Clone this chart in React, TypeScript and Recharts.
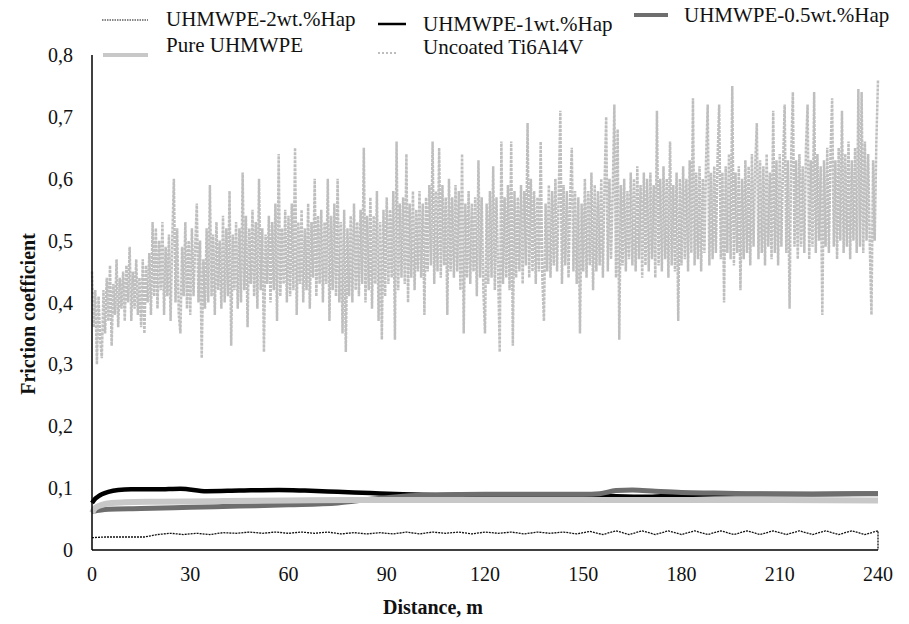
import { LineChart, Line, XAxis, YAxis } from "recharts";

// distances (m) for the smooth series
const DIST_1WT = [0, 1, 2, 3, 5, 8, 12, 20, 27, 35, 45, 57, 65, 75, 85, 95, 105, 120, 150, 160, 170, 180, 200, 220, 240];
const VAL_1WT = [0.076, 0.083, 0.087, 0.09, 0.094, 0.097, 0.098, 0.098, 0.099, 0.095, 0.096, 0.097, 0.096, 0.094, 0.092, 0.09, 0.089, 0.0895, 0.0895, 0.087, 0.086, 0.089, 0.0905, 0.0905, 0.091];

const DIST_05WT = [0, 2, 5, 15, 30, 45, 60, 75, 85, 95, 105, 120, 150, 155, 160, 165, 172, 180, 190, 200, 220, 240];
const VAL_05WT = [0.062, 0.064, 0.066, 0.067, 0.069, 0.071, 0.073, 0.076, 0.082, 0.087, 0.089, 0.09, 0.09, 0.091, 0.096, 0.097, 0.095, 0.093, 0.092, 0.091, 0.09, 0.091];

const DIST_PURE = [0, 1, 3, 6, 10, 20, 40, 60, 80, 100, 120, 150, 180, 210, 240];
const VAL_PURE = [0.06, 0.068, 0.073, 0.076, 0.077, 0.078, 0.079, 0.08, 0.081, 0.081, 0.081, 0.081, 0.081, 0.081, 0.08];

// UHMWPE-2wt.%Hap sampled every 4 m, then the drop at the end
const VAL_2WT = [
  0.02, 0.021, 0.021, 0.021, 0.021, 0.025, 0.027, 0.025, 0.027, 0.025,
  0.028, 0.027, 0.029, 0.027, 0.029, 0.027, 0.029, 0.027, 0.029, 0.026,
  0.028, 0.026, 0.028, 0.026, 0.029, 0.026, 0.029, 0.027, 0.029, 0.026,
  0.029, 0.027, 0.029, 0.026, 0.029, 0.027, 0.029, 0.026, 0.03, 0.025,
  0.031, 0.025, 0.031, 0.025, 0.031, 0.025, 0.031, 0.025, 0.031, 0.025,
  0.031, 0.025, 0.031, 0.025, 0.031, 0.025, 0.031, 0.025, 0.031, 0.025,
  0.031,
];

// Uncoated Ti6Al4V sampled every 0.5 m (one row = 5 m)
const VAL_TI = [
  0.45, 0.36, 0.42, 0.3, 0.41, 0.34, 0.31, 0.42, 0.35, 0.44,
  0.37, 0.46, 0.33, 0.43, 0.38, 0.47, 0.36, 0.44, 0.39, 0.45,
  0.37, 0.46, 0.4, 0.49, 0.37, 0.45, 0.39, 0.47, 0.38, 0.44,
  0.36, 0.47, 0.35, 0.46, 0.4, 0.48, 0.38, 0.53, 0.41, 0.52,
  0.39, 0.5, 0.42, 0.53, 0.38, 0.49, 0.41, 0.51, 0.37, 0.5,
  0.6, 0.4, 0.52, 0.38, 0.35, 0.49, 0.41, 0.53, 0.39, 0.5,
  0.38, 0.52, 0.41, 0.49, 0.56, 0.4, 0.5, 0.31, 0.47, 0.39,
  0.52, 0.4, 0.59, 0.41, 0.51, 0.38, 0.53, 0.42, 0.5, 0.39,
  0.54, 0.4, 0.52, 0.41, 0.58, 0.33, 0.51, 0.42, 0.53, 0.39,
  0.52, 0.4, 0.61, 0.42, 0.54, 0.36, 0.52, 0.43, 0.55, 0.41,
  0.53, 0.39, 0.6, 0.42, 0.52, 0.32, 0.51, 0.43, 0.54, 0.4,
  0.53, 0.42, 0.56, 0.37, 0.64, 0.41, 0.52, 0.43, 0.55, 0.4,
  0.54, 0.41, 0.56, 0.42, 0.65, 0.38, 0.53, 0.43, 0.55, 0.4,
  0.52, 0.42, 0.56, 0.39, 0.53, 0.44, 0.6, 0.41, 0.54, 0.43,
  0.55, 0.4, 0.53, 0.43, 0.6, 0.37, 0.54, 0.42, 0.56, 0.41,
  0.6, 0.4, 0.53, 0.35, 0.55, 0.32, 0.52, 0.41, 0.54, 0.4,
  0.56, 0.42, 0.53, 0.41, 0.55, 0.43, 0.65, 0.4, 0.54, 0.42,
  0.57, 0.39, 0.54, 0.43, 0.58, 0.37, 0.53, 0.34, 0.55, 0.41,
  0.57, 0.43, 0.55, 0.44, 0.58, 0.34, 0.66, 0.42, 0.56, 0.44,
  0.57, 0.43, 0.64, 0.4, 0.56, 0.44, 0.58, 0.42, 0.55, 0.45,
  0.58, 0.44, 0.56, 0.38, 0.57, 0.45, 0.59, 0.46, 0.66, 0.43,
  0.58, 0.45, 0.65, 0.44, 0.59, 0.46, 0.57, 0.38, 0.6, 0.45,
  0.57, 0.44, 0.59, 0.45, 0.58, 0.42, 0.64, 0.35, 0.56, 0.44,
  0.58, 0.43, 0.56, 0.45, 0.57, 0.41, 0.63, 0.44, 0.57, 0.42,
  0.35, 0.56, 0.43, 0.58, 0.44, 0.62, 0.42, 0.57, 0.45, 0.32,
  0.66, 0.43, 0.57, 0.44, 0.59, 0.42, 0.66, 0.33, 0.58, 0.44,
  0.57, 0.45, 0.59, 0.43, 0.58, 0.46, 0.69, 0.44, 0.6, 0.45,
  0.58, 0.43, 0.57, 0.45, 0.66, 0.44, 0.37, 0.56, 0.45, 0.59,
  0.44, 0.58, 0.46, 0.6, 0.45, 0.57, 0.71, 0.43, 0.59, 0.46,
  0.58, 0.44, 0.57, 0.65, 0.45, 0.58, 0.43, 0.57, 0.35, 0.56,
  0.45, 0.6, 0.44, 0.58, 0.46, 0.61, 0.42, 0.59, 0.45, 0.58,
  0.46, 0.6, 0.44, 0.59, 0.7, 0.45, 0.6, 0.47, 0.58, 0.72,
  0.44, 0.68, 0.34, 0.59, 0.46, 0.6, 0.45, 0.58, 0.47, 0.61,
  0.46, 0.6, 0.45, 0.62, 0.47, 0.59, 0.44, 0.61, 0.46, 0.6,
  0.45, 0.61, 0.47, 0.59, 0.44, 0.71, 0.46, 0.6, 0.45, 0.62,
  0.47, 0.6, 0.44, 0.66, 0.46, 0.59, 0.45, 0.61, 0.37, 0.6,
  0.46, 0.62, 0.47, 0.6, 0.45, 0.63, 0.48, 0.73, 0.46, 0.61,
  0.47, 0.62, 0.45, 0.6, 0.48, 0.63, 0.72, 0.46, 0.61, 0.47,
  0.62, 0.48, 0.63, 0.72, 0.47, 0.61, 0.4, 0.62, 0.48, 0.64,
  0.47, 0.75, 0.46, 0.61, 0.48, 0.62, 0.42, 0.6, 0.47, 0.63,
  0.48, 0.62, 0.46, 0.64, 0.49, 0.62, 0.69, 0.47, 0.63, 0.48,
  0.62, 0.46, 0.64, 0.49, 0.61, 0.47, 0.71, 0.48, 0.63, 0.46,
  0.64, 0.49, 0.62, 0.72, 0.48, 0.63, 0.39, 0.64, 0.74, 0.49,
  0.63, 0.47, 0.64, 0.49, 0.62, 0.48, 0.65, 0.72, 0.47, 0.63,
  0.49, 0.74, 0.48, 0.64, 0.5, 0.62, 0.38, 0.63, 0.49, 0.65,
  0.48, 0.64, 0.73, 0.49, 0.63, 0.47, 0.65, 0.5, 0.71, 0.48,
  0.64, 0.49, 0.66, 0.47, 0.63, 0.5, 0.65, 0.48, 0.745, 0.49,
  0.74, 0.48, 0.66, 0.5, 0.64, 0.49, 0.38, 0.63, 0.5, 0.66,
  0.76,
];

const X_TICKS = [0, 30, 60, 90, 120, 150, 180, 210, 240];
const Y_TICKS = [0, 0.1, 0.2, 0.3, 0.4, 0.5, 0.6, 0.7, 0.8];

const zip = (dist: number[], vals: number[]) => dist.map((d, i) => ({ d, v: vals[i] }));

const data1wt = zip(DIST_1WT, VAL_1WT);
const data05wt = zip(DIST_05WT, VAL_05WT);
const dataPure = zip(DIST_PURE, VAL_PURE);
const data2wt = [...VAL_2WT.map((v, i) => ({ d: i * 4, v })), { d: 240, v: 0 }];
const dataTi = VAL_TI.map((v, i) => ({ d: i / 2, v }));

const FONT = '"Liberation Serif", "Times New Roman", serif';

const formatY = (v: number) => (v === 0 ? "0" : v.toFixed(1).replace(".", ","));

function Overlay() {
  const text = { fontFamily: FONT, fontSize: 21, fill: "#111" };
  const title = { fontFamily: FONT, fontSize: 20, fontWeight: 700, fill: "#111" };
  return (
    <svg width={909} height={624} style={{ position: "absolute", left: 0, top: 0, pointerEvents: "none" }}>
      <line x1={102} x2={148} y1={20} y2={20} stroke="#111" strokeWidth={1.2} strokeDasharray="1.5 1" />
      <text x={166} y={19} dominantBaseline="central" {...text}>UHMWPE-2wt.%Hap</text>
      <line x1={378} x2={406} y1={24} y2={24} stroke="#000" strokeWidth={2.5} />
      <text x={423} y={24} dominantBaseline="central" {...text}>UHMWPE-1wt.%Hap</text>
      <line x1={634} x2={668} y1={15} y2={15} stroke="#6e6e6e" strokeWidth={4} />
      <text x={684} y={15} dominantBaseline="central" {...text}>UHMWPE-0.5wt.%Hap</text>
      <line x1={103} x2={148} y1={55} y2={55} stroke="#c8c8c8" strokeWidth={4} />
      <text x={166} y={45} dominantBaseline="central" {...text}>Pure UHMWPE</text>
      <line x1={378} x2={396} y1={53} y2={53} stroke="#bdbdbd" strokeWidth={2} strokeDasharray="2 2" />
      <text x={423} y={47} dominantBaseline="central" {...text}>Uncoated Ti6Al4V</text>
      <text x={28} y={314} transform="rotate(-90 28 314)" textAnchor="middle" dominantBaseline="central" {...title}>Friction coefficient</text>
      <text x={433} y={607} textAnchor="middle" dominantBaseline="central" {...title}>Distance, m</text>
    </svg>
  );
}

export default function App() {
  return (
    <div style={{ position: "relative", width: 909, height: 624, background: "#fff", fontFamily: FONT }}>
      <style>{"body{margin:0}"}</style>
      <LineChart width={909} height={624} margin={{ top: 55, right: 31, bottom: 14, left: 2 }}>
        <XAxis
          dataKey="d"
          type="number"
          domain={[0, 240]}
          ticks={X_TICKS}
          allowDuplicatedCategory={false}
          height={60}
          tickSize={0}
          tickMargin={17}
          axisLine={{ stroke: "#000", strokeWidth: 1.5 }}
          tick={{ fill: "#111", fontSize: 20, fontFamily: FONT }}
        />
        <YAxis
          type="number"
          domain={[0, 0.8]}
          ticks={Y_TICKS}
          width={90}
          tickSize={0}
          tickMargin={19}
          tickFormatter={formatY}
          axisLine={{ stroke: "#000", strokeWidth: 1.5 }}
          tick={{ fill: "#111", fontSize: 20, fontFamily: FONT }}
        />
        <Line data={data2wt} dataKey="v" type="linear" stroke="#111" strokeWidth={1.3} strokeDasharray="2 1" dot={false} activeDot={false} isAnimationActive={false} />
        <Line data={data1wt} dataKey="v" type="monotone" stroke="#000" strokeWidth={4.5} dot={false} activeDot={false} isAnimationActive={false} />
        <Line data={data05wt} dataKey="v" type="monotone" stroke="#6e6e6e" strokeWidth={5} dot={false} activeDot={false} isAnimationActive={false} />
        <Line data={dataPure} dataKey="v" type="monotone" stroke="#c8c8c8" strokeWidth={6} dot={false} activeDot={false} isAnimationActive={false} />
        <Line data={dataTi} dataKey="v" type="linear" stroke="#bfbfbf" strokeWidth={2.5} strokeDasharray="3 1" dot={false} activeDot={false} isAnimationActive={false} />
      </LineChart>
      <Overlay />
    </div>
  );
}
